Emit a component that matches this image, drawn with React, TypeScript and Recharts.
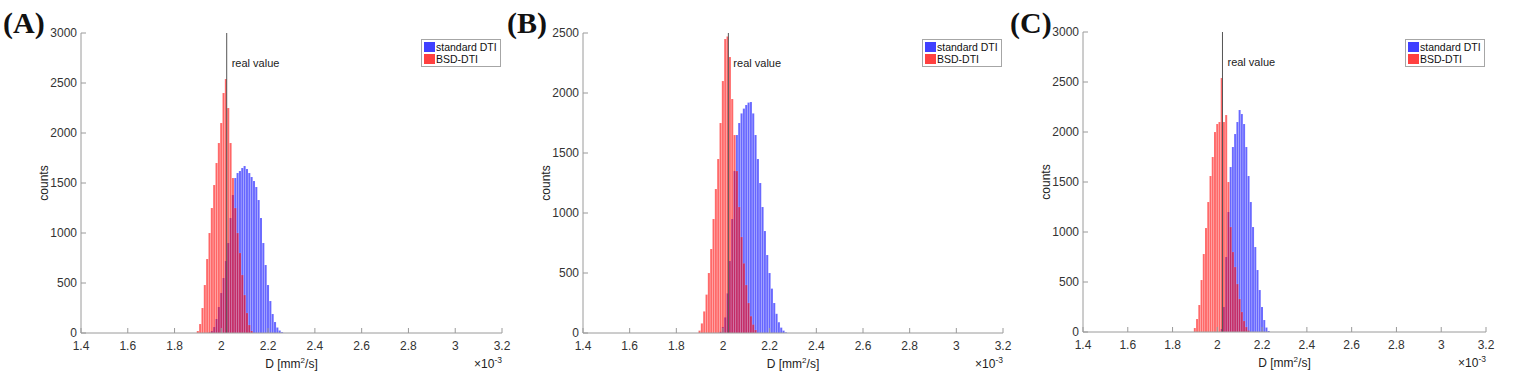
import { ComposedChart, Bar, XAxis, YAxis, ReferenceLine, Legend, Label } from "recharts";

// histogram bin centres, D in 10^-3 mm^2/s
const bins = [
  1.9, 1.91, 1.92, 1.93, 1.94, 1.95, 1.96, 1.97, 1.98, 1.99, 2.0, 2.01, 2.02, 2.03, 2.04, 2.05, 2.06, 2.07, 2.08,
  2.09, 2.1, 2.11, 2.12, 2.13, 2.14, 2.15, 2.16, 2.17, 2.18, 2.19, 2.2, 2.21, 2.22, 2.23, 2.24, 2.25, 2.26, 2.27,
];

const coronalStd = [
  0, 0, 0, 0, 0, 5, 20, 60, 140, 260, 400, 550, 720, 900, 1150, 1380, 1550, 1600, 1620, 1650, 1670, 1640, 1600,
  1560, 1520, 1460, 1330, 1150, 900, 680, 480, 320, 190, 110, 55, 25, 8, 0,
];
const coronalBsd = [
  20, 90, 250, 480, 740, 1000, 1250, 1480, 1700, 1900, 2100, 2400, 2540, 2250, 1900, 1550, 1250, 1000, 800, 580,
  380, 200, 80, 20, 0, 0, 0, 0, 0, 0, 0, 0, 0, 0, 0, 0, 0, 0,
];

const sagittalStd = [
  0, 0, 0, 0, 0, 0, 0, 0, 0, 10, 50, 130, 330, 600, 950, 1350, 1650, 1750, 1830, 1870, 1900, 1920, 1925, 1830,
  1650, 1450, 1250, 1050, 850, 650, 500, 370, 250, 160, 90, 45, 20, 5,
];
const sagittalBsd = [
  20, 80, 180, 320, 500, 700, 950, 1200, 1450, 1750, 2100, 2450, 2470, 2300, 1950, 1650, 1350, 1050, 800, 580,
  400, 250, 140, 70, 25, 0, 0, 0, 0, 0, 0, 0, 0, 0, 0, 0, 0, 0,
];

const transverseStd = [
  0, 0, 0, 0, 0, 0, 0, 0, 0, 0, 0, 0, 30, 250, 750, 1200, 1650, 1850, 1980, 2100, 2220, 2180, 2080, 1850, 1560,
  1300, 1050, 850, 620, 420, 250, 120, 45, 10, 0, 0, 0, 0,
];
const transverseBsd = [
  40, 130, 270, 520, 780, 1040, 1300, 1560, 1750, 2000, 2080, 2100, 2540, 2100, 2170, 1500, 1050, 800, 650, 480,
  330, 200, 110, 50, 15, 0, 0, 0, 0, 0, 0, 0, 0, 0, 0, 0, 0, 0,
];

const xTicks = [1.4, 1.6, 1.8, 2, 2.2, 2.4, 2.6, 2.8, 3, 3.2];
const yTicks3000 = [0, 500, 1000, 1500, 2000, 2500, 3000];
const yTicks2500 = [0, 500, 1000, 1500, 2000, 2500];
const realValue = 2.023;
const legendOrder = ["standard DTI", "BSD-DTI"];

const FONT = '"Liberation Sans", Arial, sans-serif';
const AXIS = "#9a9a9a";
const TICK = { fontSize: 12, fill: "#333", fontFamily: FONT };

const panels = [
  { letter: "(A)", letterX: 3, title: "coronal plane - isocenter", std: coronalStd, bsd: coronalBsd, yTicks: yTicks3000, left: 81, right: 502, top: 33, bottom: 333 },
  { letter: "(B)", letterX: 507, title: "sagittal plane - isocenter", std: sagittalStd, bsd: sagittalBsd, yTicks: yTicks2500, left: 583, right: 1003, top: 33, bottom: 333 },
  { letter: "(C)", letterX: 1010, title: "transverse plane - isocenter", std: transverseStd, bsd: transverseBsd, yTicks: yTicks3000, left: 1083, right: 1486, top: 32, bottom: 332 },
];

const fmtX = (v: number) => String(Math.round(v * 10) / 10);
const blank = () => "";

function LegendBox(props: any) {
  const items = [...(props.payload || [])].sort(
    (a: any, b: any) => legendOrder.indexOf(a.value) - legendOrder.indexOf(b.value)
  );
  return (
    <div style={{ border: "1px solid #a6a6a6", background: "#fff", padding: "1px 3px 1px 2px", fontFamily: FONT, fontSize: 10.5, lineHeight: "12px", color: "#111", whiteSpace: "nowrap" }}>
      {items.map((it: any) => (
        <div key={it.value} style={{ display: "flex", alignItems: "center" }}>
          <span style={{ display: "inline-block", width: 11, height: 10, background: it.color, opacity: 0.75, marginRight: 1 }} />
          {it.value}
        </div>
      ))}
    </div>
  );
}

function Panel({ p }: { p: (typeof panels)[number] }) {
  const chartLeft = p.left - 70;
  const width = p.right - chartLeft + 10;
  const data = bins.map((d, i) => ({ d, std: p.std[i] || null, bsd: p.bsd[i] || null }));
  const barSize = (p.right - p.left) / 180;
  const yMax = p.yTicks[p.yTicks.length - 1];

  return (
    <div style={{ position: "absolute", left: chartLeft, top: 0 }}>
      <ComposedChart
        width={width}
        height={385}
        data={data}
        margin={{ top: p.top, right: 10, bottom: 385 - p.bottom - 30, left: 20 }}
      >
        <XAxis xAxisId="std" dataKey="d" type="number" domain={[1.4, 3.2]} hide />
        <XAxis
          xAxisId="main"
          dataKey="d"
          type="number"
          domain={[1.4, 3.2]}
          ticks={xTicks}
          interval={0}
          tickFormatter={fmtX}
          height={30}
          tickSize={-5}
          tickMargin={13}
          stroke={AXIS}
          tick={TICK}
        >
          <Label
            content={({ viewBox }: any) => {
              const cx = viewBox.x + viewBox.width / 2;
              const by = viewBox.y + 35;
              const rx = viewBox.x + viewBox.width;
              return (
                <g fontFamily={FONT} fill="#222">
                  <text x={cx} y={by} textAnchor="middle" fontSize={12}>
                    D [mm<tspan dy={-5} fontSize={8}>2</tspan>
                    <tspan dy={5}>/s]</tspan>
                  </text>
                  <text x={rx} y={by} textAnchor="end" fontSize={12}>
                    ×10<tspan dy={-5} fontSize={8.5}>-3</tspan>
                  </text>
                </g>
              );
            }}
          />
        </XAxis>
        <XAxis
          xAxisId="top"
          orientation="top"
          dataKey="d"
          type="number"
          domain={[1.4, 3.2]}
          ticks={xTicks}
          interval={0}
          tickFormatter={blank}
          height={0}
          tickSize={-5}
          stroke={AXIS}
        >
          <Label
            content={({ viewBox }: any) => (
              <text
                x={viewBox.x + viewBox.width / 2}
                y={viewBox.y - 5}
                textAnchor="middle"
                fontSize={12.5}
                fontWeight="bold"
                fontFamily={FONT}
                fill="#111"
              >
                {p.title}
              </text>
            )}
          />
        </XAxis>
        <YAxis
          yAxisId="left"
          type="number"
          domain={[0, yMax]}
          ticks={p.yTicks}
          interval={0}
          width={50}
          tickSize={-5}
          tickMargin={9}
          stroke={AXIS}
          tick={TICK}
        >
          <Label
            content={({ viewBox }: any) => {
              const cx = viewBox.x + viewBox.width - 37;
              const cy = viewBox.y + viewBox.height / 2;
              return (
                <text
                  x={cx}
                  y={cy}
                  transform={`rotate(-90 ${cx} ${cy})`}
                  textAnchor="middle"
                  dominantBaseline="central"
                  fontSize={12}
                  fontFamily={FONT}
                  fill="#222"
                >
                  counts
                </text>
              );
            }}
          />
        </YAxis>
        <YAxis
          yAxisId="right"
          orientation="right"
          type="number"
          domain={[0, yMax]}
          ticks={p.yTicks}
          interval={0}
          width={0}
          tickSize={-5}
          tickFormatter={blank}
          stroke={AXIS}
        />
        <Bar
          xAxisId="std"
          yAxisId="left"
          dataKey="std"
          name="standard DTI"
          fill="#0000ff"
          fillOpacity={0.6}
          stroke="#ffffff"
          strokeWidth={0.2}
          strokeOpacity={0.5}
          barSize={barSize}
          isAnimationActive={false}
        />
        <Bar
          xAxisId="main"
          yAxisId="left"
          dataKey="bsd"
          name="BSD-DTI"
          fill="#ff0000"
          fillOpacity={0.6}
          stroke="#ffffff"
          strokeWidth={0.2}
          strokeOpacity={0.5}
          barSize={barSize}
          isAnimationActive={false}
        />
        <ReferenceLine
          xAxisId="main"
          yAxisId="left"
          x={realValue}
          stroke="#555"
          strokeWidth={1}
          label={({ viewBox }: any) => (
            <text x={viewBox.x + 5} y={viewBox.y + 34} fontSize={11} fontFamily={FONT} fill="#222">
              real value
            </text>
          )}
        />
        <Legend
          layout="vertical"
          align="center"
          verticalAlign="middle"
          content={LegendBox}
          wrapperStyle={{ position: "absolute", left: p.right - chartLeft - 81, top: 39, width: "auto" }}
        />
      </ComposedChart>
      <div
        style={{
          position: "absolute",
          left: p.letterX - chartLeft,
          top: 8,
          fontFamily: '"Liberation Serif", "Times New Roman", serif',
          fontWeight: "bold",
          fontSize: 30,
          lineHeight: "30px",
          color: "#111",
        }}
      >
        {p.letter}
      </div>
    </div>
  );
}

export default function App() {
  return (
    <div style={{ position: "absolute", left: 0, top: 0, width: 1535, height: 385, background: "#fff" }}>
      {panels.map((p) => (
        <Panel key={p.letter} p={p} />
      ))}
    </div>
  );
}
